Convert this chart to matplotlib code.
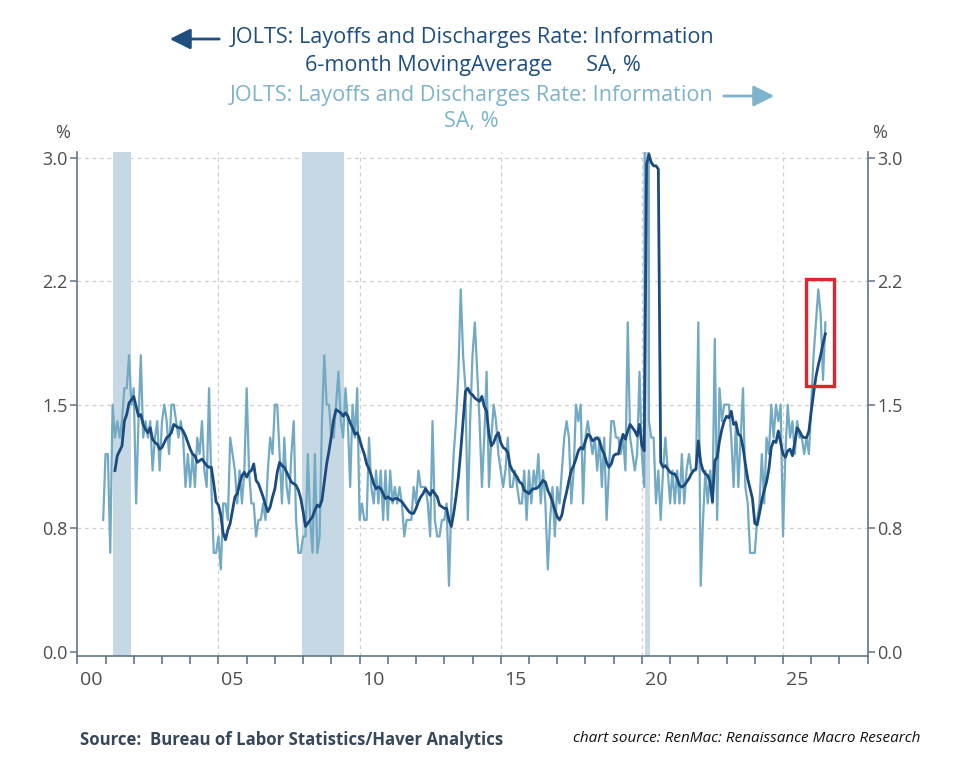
import numpy as np
import matplotlib
matplotlib.use("Agg")
import matplotlib.pyplot as plt
from matplotlib.patches import Rectangle, FancyArrowPatch
from matplotlib.ticker import FormatStrFormatter

# JOLTS layoffs & discharges rate, information sector, SA, % (monthly, Dec 2000 - Jul 2026)
raw_start = (2000, 12)
raw_rate = [
    0.8,
    1.2, 1.2, 0.6, 1.5, 1.3, 1.4, 1.3, 1.4, 1.6, 1.6, 1.8, 1.5,   # 2001
    1.6, 0.9, 1.4, 1.8, 1.3, 1.4, 1.3, 1.4, 1.1, 1.3, 1.4, 1.1,   # 2002
    1.4, 1.5, 1.4, 1.2, 1.5, 1.5, 1.4, 1.3, 1.4, 1.3, 1.0, 1.2,   # 2003
    1.0, 1.2, 1.0, 1.3, 1.2, 1.4, 1.1, 1.0, 1.6, 1.0, 0.6, 0.6,   # 2004
    0.7, 0.5, 0.9, 0.9, 0.8, 1.3, 1.2, 1.1, 0.9, 1.1, 0.9, 1.1,   # 2005
    1.6, 1.1, 0.9, 0.9, 0.7, 0.8, 0.8, 0.9, 0.8, 1.1, 1.3, 1.2,   # 2006
    1.5, 1.5, 1.2, 0.9, 1.3, 1.0, 0.9, 1.2, 1.4, 0.8, 0.6, 0.6,   # 2007
    0.7, 0.7, 1.2, 0.8, 0.6, 1.2, 0.6, 0.7, 1.4, 1.8, 1.5, 1.5,   # 2008
    1.3, 1.3, 1.5, 1.7, 1.4, 1.3, 1.6, 1.4, 1.0, 1.5, 1.3, 1.6,   # 2009
    0.8, 0.9, 0.8, 0.8, 1.3, 1.0, 0.9, 1.1, 0.9, 1.1, 0.8, 1.1,   # 2010
    0.8, 1.1, 0.9, 1.0, 0.9, 1.0, 0.9, 0.7, 0.8, 0.8, 0.8, 1.0,   # 2011
    0.9, 1.1, 1.0, 1.0, 1.0, 0.9, 0.7, 1.4, 0.8, 0.7, 0.7, 0.8,   # 2012
    0.8, 0.9, 0.4, 0.9, 1.2, 1.4, 1.7, 2.2, 1.8, 1.6, 0.8, 1.4,   # 2013
    1.8, 2.0, 1.7, 1.4, 1.0, 1.3, 1.7, 1.0, 1.3, 1.5, 1.4, 1.2,   # 2014
    1.1, 1.0, 1.1, 1.3, 1.0, 1.0, 1.1, 1.0, 0.9, 0.9, 1.1, 0.8,   # 2015
    1.1, 0.9, 1.1, 1.0, 1.2, 0.9, 1.1, 0.9, 0.5, 0.8, 1.0, 0.7,   # 2016
    1.0, 0.9, 1.1, 1.3, 1.4, 1.3, 0.9, 1.1, 1.5, 1.4, 1.5, 0.9,   # 2017
    1.3, 1.4, 1.3, 1.2, 1.3, 1.1, 1.3, 1.0, 1.3, 0.8, 1.1, 1.4,   # 2018
    1.4, 1.3, 1.3, 1.2, 1.3, 1.1, 2.0, 1.3, 1.2, 1.1, 1.2, 1.7,   # 2019
    1.2, 1.0, 11.6, 1.4, 1.3, 1.3, 0.9, 1.1, 0.8, 1.1, 1.3, 1.1,  # 2020
    0.9, 1.1, 0.9, 1.1, 0.9, 1.2, 0.9, 1.1, 1.2, 1.1, 1.1, 1.1,   # 2021
    2.0, 0.4, 0.8, 1.1, 0.9, 1.1, 0.9, 1.9, 0.8, 1.6, 1.4, 1.5,   # 2022
    1.5, 1.5, 1.3, 1.0, 1.4, 1.0, 1.3, 1.6, 1.0, 0.9, 0.6, 0.6,   # 2023
    0.6, 0.8, 0.9, 1.2, 0.9, 1.3, 1.2, 1.5, 1.3, 1.5, 1.4, 1.5,   # 2024
    0.7, 1.2, 1.5, 1.3, 1.4, 1.2, 1.4, 1.3, 1.3, 1.2, 1.3, 1.2,   # 2025
    1.5, 1.8, 2.0, 2.2, 2.05, 1.65, 2.0,                          # 2026
]

# 6-month moving average, May 2001 - Jul 2026
ma_start = (2001, 5)
ma_rate = [
    1.10, 1.19, 1.22, 1.25, 1.40, 1.44, 1.51, 1.53,                           # 2001
    1.55, 1.49, 1.43, 1.44, 1.38, 1.35, 1.33, 1.36, 1.29, 1.27, 1.26, 1.23,   # 2002
    1.24, 1.27, 1.30, 1.31, 1.33, 1.38, 1.37, 1.36, 1.36, 1.34, 1.31, 1.27,   # 2003
    1.23, 1.20, 1.19, 1.15, 1.16, 1.17, 1.15, 1.13, 1.12, 1.12, 1.02, 0.91,   # 2004
    0.89, 0.83, 0.72, 0.68, 0.74, 0.78, 0.86, 0.94, 0.96, 1.02, 1.07, 1.09,   # 2005
    1.06, 1.09, 1.10, 1.14, 1.04, 1.02, 0.98, 0.94, 0.89, 0.85, 0.88, 0.94,   # 2006
    0.99, 1.09, 1.15, 1.13, 1.12, 1.09, 1.06, 1.03, 1.02, 1.01, 0.98, 0.93,   # 2007
    0.85, 0.76, 0.78, 0.80, 0.82, 0.86, 0.89, 0.88, 0.92, 1.03, 1.14, 1.22,   # 2008
    1.31, 1.41, 1.47, 1.46, 1.45, 1.43, 1.45, 1.43, 1.39, 1.36, 1.32, 1.33,   # 2009
    1.29, 1.24, 1.20, 1.14, 1.11, 1.07, 1.02, 0.99, 1.00, 0.99, 0.96, 0.93,   # 2010
    0.94, 0.93, 0.92, 0.93, 0.93, 0.92, 0.91, 0.89, 0.87, 0.85, 0.84, 0.84,   # 2011
    0.87, 0.91, 0.94, 0.96, 0.99, 0.97, 0.95, 0.98, 0.96, 0.94, 0.89, 0.88,   # 2012
    0.87, 0.87, 0.80, 0.76, 0.84, 0.94, 1.06, 1.22, 1.40, 1.58, 1.60, 1.57,   # 2013
    1.56, 1.54, 1.53, 1.52, 1.55, 1.49, 1.46, 1.32, 1.25, 1.27, 1.31, 1.33,   # 2014
    1.27, 1.24, 1.23, 1.21, 1.13, 1.10, 1.08, 1.06, 1.03, 1.02, 0.98, 0.97,   # 2015
    0.96, 0.98, 0.99, 0.99, 1.00, 1.02, 1.04, 1.03, 0.98, 0.95, 0.91, 0.86,   # 2016
    0.82, 0.80, 0.83, 0.91, 0.97, 1.04, 1.10, 1.13, 1.17, 1.22, 1.24, 1.23,   # 2017
    1.28, 1.32, 1.31, 1.28, 1.29, 1.30, 1.28, 1.23, 1.20, 1.15, 1.12, 1.14,   # 2018
    1.19, 1.20, 1.20, 1.27, 1.32, 1.29, 1.34, 1.38, 1.36, 1.34, 1.31, 1.38,   # 2019
    1.25, 1.22, 2.96, 3.02, 2.97, 2.95, 2.95, 2.93, 1.15, 1.12, 1.13, 1.11,   # 2020
    1.09, 1.08, 1.08, 1.05, 1.01, 1.00, 1.01, 1.03, 1.05, 1.08, 1.10, 1.11,   # 2021
    1.28, 1.15, 1.10, 1.08, 1.07, 1.03, 0.91, 1.16, 1.18, 1.28, 1.35, 1.40,   # 2022
    1.43, 1.42, 1.46, 1.38, 1.39, 1.32, 1.31, 1.24, 1.14, 1.05, 0.99, 0.93,   # 2023
    0.78, 0.77, 0.84, 0.92, 0.98, 1.03, 1.11, 1.24, 1.28, 1.27, 1.34, 1.27,   # 2024
    1.20, 1.18, 1.22, 1.23, 1.19, 1.27, 1.36, 1.34, 1.31, 1.30, 1.30, 1.34,   # 2025
    1.46, 1.57, 1.67, 1.74, 1.80, 1.87, 1.93,                                 # 2026
]

recessions = [(2001.25, 2001.9), (2007.95, 2009.45), (2020.12, 2020.29)]
year_ticks = [2000, 2005, 2010, 2015, 2020, 2025]
year_labels = ["00", "05", "10", "15", "20", "25"]
y_ticks = [0.0, 0.75, 1.5, 2.25, 3.0]

DARK = "#1b4b7e"
LIGHT = "#72a9c3"
SHADE = "#c6d8e3"
SPINE = "#62758b"
TICKTXT = "#4d4d4d"
GRID = "#cfcfcf"

plt.rcParams["font.family"] = ["Open Sans", "DejaVu Sans"]


def month_axis(start, n):
    y, m = start
    return y + (m - 1) / 12.0 + np.arange(n) / 12.0


x_raw = month_axis(raw_start, len(raw_rate))
x_ma = month_axis(ma_start, len(ma_rate))

W, H = 974, 769
fig = plt.figure(figsize=(W / 100, H / 100), dpi=100)
ax = fig.add_axes([77.3 / W, 1 - 656 / H, (867.7 - 77.3) / W, (656 - 152) / H])
ax.set_xlim(2000, 2028)
ax.set_ylim(-0.026, 3.034)

for y in y_ticks[1:]:
    ax.axhline(y, color=GRID, lw=0.9, ls=(0, (3, 3)), zorder=0.5)
for x in year_ticks[1:]:
    ax.axvline(x, color=GRID, lw=0.9, ls=(0, (3, 3)), zorder=0.5)
for a, b in recessions:
    ax.axvspan(a, b, color=SHADE, lw=0, zorder=1)

ax.plot(x_raw, raw_rate, color=LIGHT, lw=1.6, zorder=2)
ax.plot(x_ma, ma_rate, color=DARK, lw=2.0, zorder=3)

# highlight box around the latest readings
ax.add_patch(Rectangle((2025.82, 1.613), 1.0, 0.648, fill=False,
                       edgecolor="#e0262c", lw=2.4, zorder=4, clip_on=False))

for side in ["left", "right", "bottom"]:
    ax.spines[side].set_color(SPINE)
    ax.spines[side].set_linewidth(1.2)
ax.spines["top"].set_visible(False)

ax.set_yticks(y_ticks)
ax.yaxis.set_major_formatter(FormatStrFormatter("%.1f"))
ax.tick_params(axis="y", left=True, right=True, labelleft=True, labelright=True,
               direction="out", length=5, width=1.1, color=SPINE,
               labelcolor=TICKTXT, labelsize=13, pad=2)

ax.set_xticks(range(2000, 2029))
ax.set_xticklabels([])
ax.set_xticks([t + 0.5 for t in year_ticks], minor=True)
ax.set_xticklabels(year_labels, minor=True)
ax.tick_params(axis="x", which="major", direction="out", length=6, width=1.2, color=SPINE)
ax.tick_params(axis="x", which="minor", length=0, pad=11, labelsize=14, labelcolor=TICKTXT)

fig.text(63 / W, 1 - 133 / H, "%", ha="center", va="center", fontsize=13, color=TICKTXT)
fig.text(880 / W, 1 - 133 / H, "%", ha="center", va="center", fontsize=13, color=TICKTXT)

# legend-style header
LEG_DARK = "#1f4f80"
LEG_LIGHT = "#7db3cb"
fig.text(473 / W, 1 - 38 / H, "JOLTS: Layoffs and Discharges Rate: Information",
         ha="center", va="center", fontsize=15.6, color=LEG_DARK)
fig.text(473 / W, 1 - 65 / H, "6-month MovingAverage      SA, %",
         ha="center", va="center", fontsize=15.6, color=LEG_DARK)
fig.text(472 / W, 1 - 95 / H, "JOLTS: Layoffs and Discharges Rate: Information",
         ha="center", va="center", fontsize=15.6, color=LEG_LIGHT)
fig.text(471 / W, 1 - 121 / H, "SA, %",
         ha="center", va="center", fontsize=15.6, color=LEG_LIGHT)

fig.patches.append(FancyArrowPatch((222 / W, 1 - 39 / H), (167 / W, 1 - 39 / H),
                                   transform=fig.transFigure, figure=fig,
                                   arrowstyle="-|>,head_length=0.9,head_width=0.45",
                                   mutation_scale=14, lw=2.0, color=LEG_DARK))
fig.patches.append(FancyArrowPatch((721 / W, 1 - 96 / H), (777 / W, 1 - 96 / H),
                                   transform=fig.transFigure, figure=fig,
                                   arrowstyle="-|>,head_length=0.9,head_width=0.45",
                                   mutation_scale=14, lw=2.0, color=LEG_LIGHT))

fig.text(80 / W, 1 - 740 / H, "Source:  Bureau of Labor Statistics/Haver Analytics",
         ha="left", va="center", fontsize=12.1, fontweight="bold", color="#36475a")
fig.text(920 / W, 1 - 738 / H, "chart source: RenMac: Renaissance Macro Research",
         ha="right", va="center", fontsize=11, style="italic", color="#111111")

fig.savefig("out.png", dpi=100)
